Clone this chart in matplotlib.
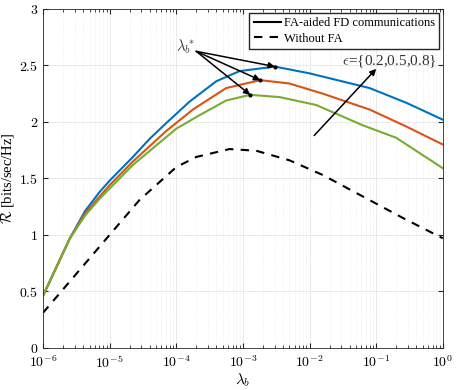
import numpy as np
import matplotlib.pyplot as plt
from matplotlib.ticker import FuncFormatter, LogLocator, NullFormatter

plt.rcParams["font.family"] = "Liberation Serif"
plt.rcParams["mathtext.fontset"] = "cm"
plt.rcParams["font.size"] = 10

# データ (x は log10(lambda_b))
x_blue = [-6, -5.6, -5.37, -5.15, -5.0, -4.65, -4.4, -4.15, -3.8, -3.4, -3.05, -2.52, -2.0, -1.1, -0.55, 0]
r_blue = [0.46, 0.965, 1.21, 1.38, 1.48, 1.69, 1.85, 1.99, 2.18, 2.36, 2.45, 2.49, 2.43, 2.30, 2.17, 2.02]

x_red = [-6, -5.6, -5.37, -5.15, -5.0, -4.65, -4.15, -3.75, -3.25, -2.74, -2.3, -1.8, -1.1, -0.55, 0]
r_red = [0.46, 0.965, 1.19, 1.34, 1.44, 1.65, 1.92, 2.11, 2.30, 2.37, 2.34, 2.25, 2.11, 1.96, 1.80]

x_green = [-6, -5.6, -5.37, -5.15, -5.0, -4.65, -4.0, -3.65, -3.25, -2.89, -2.45, -1.9, -1.2, -0.7, 0]
r_green = [0.46, 0.965, 1.17, 1.32, 1.41, 1.62, 1.94, 2.06, 2.19, 2.24, 2.22, 2.15, 1.97, 1.86, 1.59]

x_nofa = [-6, -5.0, -4.55, -4.0, -3.7, -3.2, -2.8, -2.3, -1.8, -1.2, -0.6, 0]
r_nofa = [0.31, 1.0, 1.31, 1.6, 1.69, 1.76, 1.745, 1.66, 1.53, 1.34, 1.15, 0.97]

# ピーク位置 (lambda_b^*)
peak_x = [-2.52, -2.74, -2.89]
peak_r = [2.49, 2.37, 2.24]

colors = ["#0072BD", "#D95319", "#77AC30"]


def plot():
    fig = plt.figure(figsize=(4.57, 3.90), dpi=100)
    ax = fig.add_axes([0.094, 0.108, 0.875, 0.869])

    ax.plot(10.0 ** np.array(x_blue), r_blue, color=colors[0], lw=1.5)
    ax.plot(10.0 ** np.array(x_red), r_red, color=colors[1], lw=1.5)
    ax.plot(10.0 ** np.array(x_green), r_green, color=colors[2], lw=1.5)
    ax.plot(10.0 ** np.array(x_nofa), r_nofa, "k--", lw=1.5, dashes=(4, 3.5))

    # 凡例用ダミー
    h1, = ax.plot([], [], "k-", lw=1.5, label="FA-aided FD communications")
    h2, = ax.plot([], [], "k--", lw=1.5, dashes=(4, 3.5), label="Without FA")
    ax.legend(handles=[h1, h2], loc="upper right", fancybox=False,
              edgecolor="#262626", framealpha=1, handlelength=2.2,
              borderaxespad=0.3, fontsize=9, labelspacing=0.3,
              handletextpad=0.2, borderpad=0.35)

    ax.set_xscale("log")
    ax.set_xlim(1e-6, 1)
    ax.set_ylim(0, 3)
    ax.set_yticks([0, 0.5, 1, 1.5, 2, 2.5, 3])
    ax.xaxis.set_major_locator(LogLocator(base=10, numticks=10))
    ax.xaxis.set_minor_locator(LogLocator(base=10, subs=np.arange(2, 10), numticks=20))
    ax.xaxis.set_minor_formatter(NullFormatter())
    ax.xaxis.set_major_formatter(FuncFormatter(lambda v, p: r"$10^{%d}$" % round(np.log10(v))))
    ax.yaxis.set_major_formatter(FuncFormatter(lambda v, p: r"$%g$" % v))
    ax.tick_params(which="both", direction="in", top=True, right=True,
                   labelsize=10, color="#262626")
    ax.tick_params(which="major", length=3.5)
    ax.tick_params(axis="x", which="major", pad=5)
    ax.tick_params(which="minor", length=2)
    for s in ax.spines.values():
        s.set_color("#262626")
        s.set_linewidth(0.6)

    ax.grid(True, which="major", color="#e6e6e6", lw=0.6)
    ax.grid(True, which="minor", color="#e6e6e6", lw=0.5, ls=":")
    ax.set_axisbelow(True)

    ax.set_xlabel(r"$\lambda_b$", fontsize=11, labelpad=0)
    ax.set_ylabel(r"$\mathcal{R}$ [bits/sec/Hz]", fontsize=10.5, labelpad=2)

    # lambda_b^* の矢印
    for px, pr in zip(peak_x, peak_r):
        ax.plot(10.0 ** px, pr, "k.", ms=4)
        ax.annotate("", xy=(10.0 ** px, pr), xytext=(10.0 ** -3.7, 2.625),
                    arrowprops=dict(arrowstyle="-|>", color="k", lw=1.1,
                                    mutation_scale=9, shrinkA=0, shrinkB=0))
    ax.text(10.0 ** -3.72, 2.67, r"$\lambda_b^*$", ha="right", va="center",
            fontsize=10.5, color="#333333")

    # epsilon の矢印
    ax.annotate("", xy=(10.0 ** -1.0, 2.47), xytext=(10.0 ** -1.93, 1.88),
                arrowprops=dict(arrowstyle="-|>", color="k", lw=1.1,
                                mutation_scale=9, shrinkA=0, shrinkB=0))
    ax.text(10.0 ** -0.8, 2.535, r"$\epsilon$={0.2,0.5,0.8}",
            ha="center", va="center", fontsize=11, color="#333333", zorder=6)

    plt.savefig("out.png", dpi=100)


if __name__ == "__main__":
    plot()
    plt.close()
